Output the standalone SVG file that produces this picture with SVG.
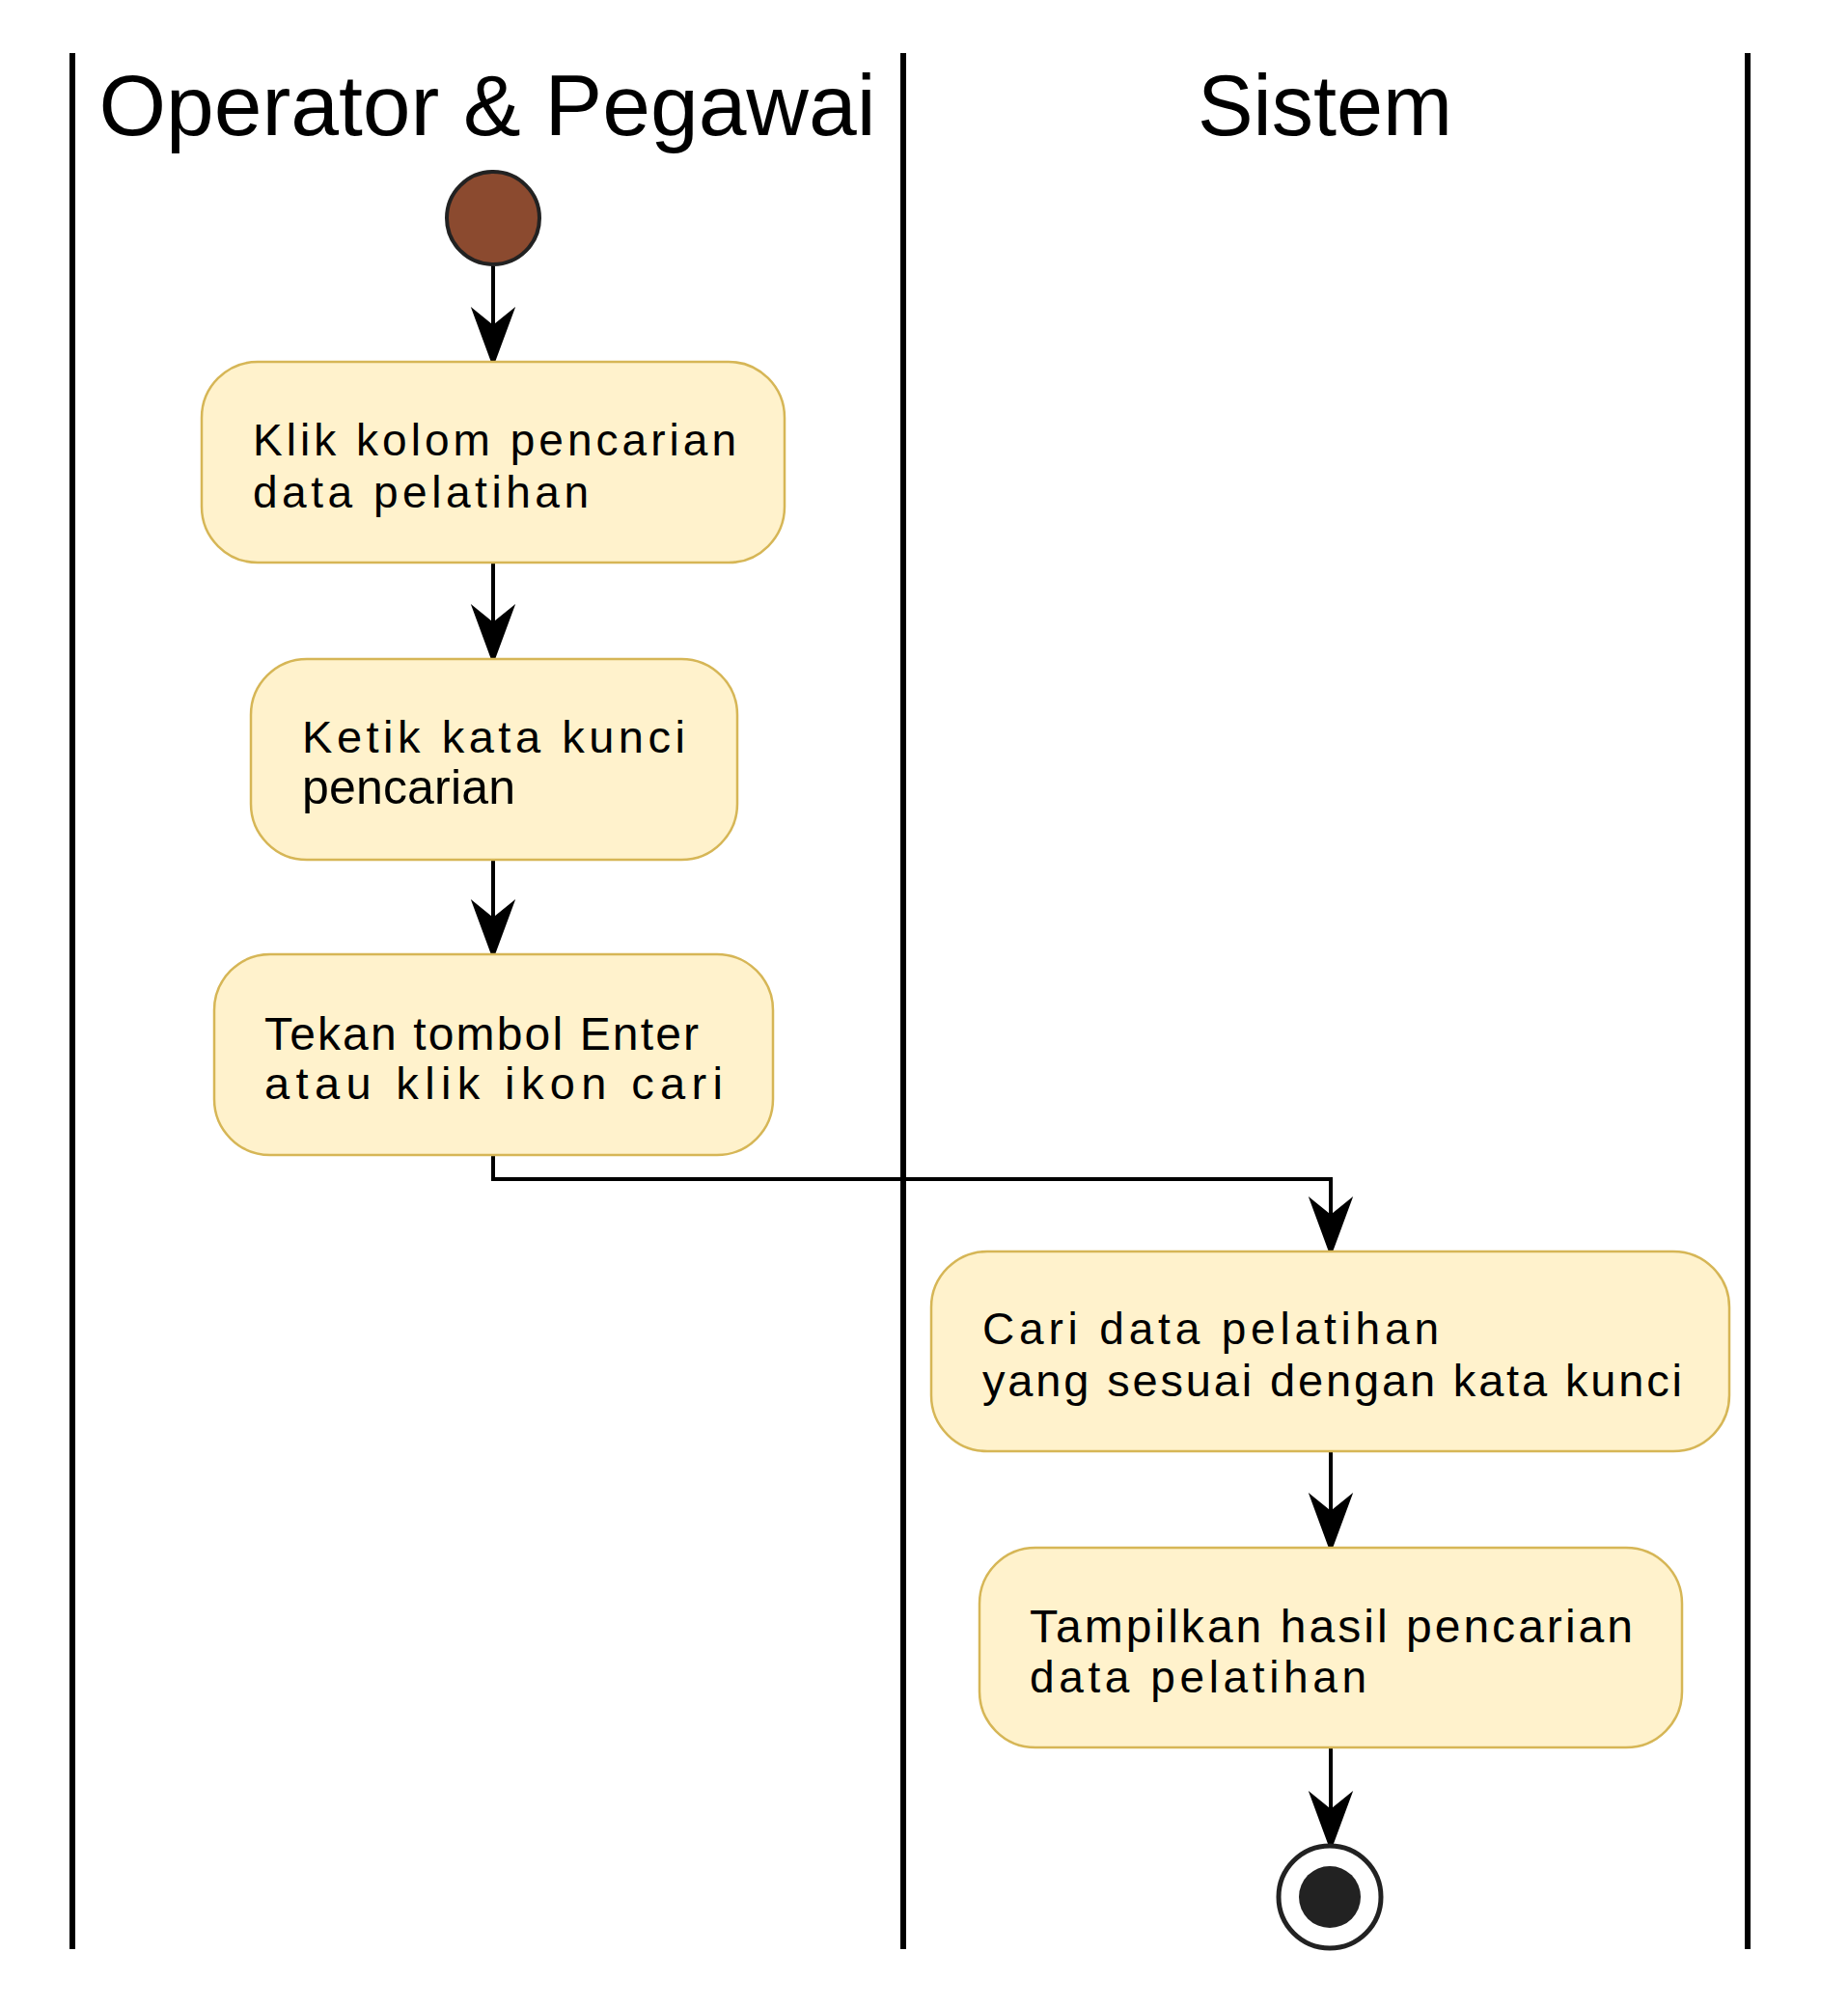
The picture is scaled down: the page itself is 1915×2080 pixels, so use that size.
<svg xmlns="http://www.w3.org/2000/svg" width="1915" height="2080" viewBox="0 0 1915 2080">
<defs>
<style>
.lane{stroke:#000;stroke-width:6;fill:none}
.title{font-family:"Liberation Sans",Arial,sans-serif;font-size:89px;fill:#000;text-anchor:middle}
.box{fill:#fff2cc;stroke:#d6b656;stroke-width:2.5}
.lbl{font-family:"Liberation Sans",Arial,sans-serif;fill:#000}
.edge{stroke:#000;stroke-width:4;fill:none;marker-end:url(#arr)}
</style>
<marker id="arr" markerUnits="userSpaceOnUse" viewBox="-20 -25 64 50" refX="0" refY="0" markerWidth="64" markerHeight="50" orient="auto">
<path d="M40,0 L-17,-21 L0,0 L-17,21 Z" fill="#000" stroke="#000" stroke-width="2" stroke-linejoin="miter"/>
</marker>
</defs>
<rect width="1915" height="2080" fill="#fff"/>
<g id="lanes">
<line class="lane" x1="75" y1="55" x2="75" y2="2020"/>
<line class="lane" x1="936" y1="55" x2="936" y2="2020"/>
<line class="lane" x1="1811" y1="55" x2="1811" y2="2020"/>
<text class="title" x="505" y="140" textLength="805" lengthAdjust="spacingAndGlyphs">Operator &amp; Pegawai</text>
<text class="title" x="1373" y="140" textLength="264" lengthAdjust="spacingAndGlyphs">Sistem</text>
</g>
<g id="connectors">
<path class="edge" d="M511,276 L511,338"/>
<path class="edge" d="M511,583 L511,646"/>
<path class="edge" d="M511,891 L511,952"/>
<path class="edge" d="M511,1197 L511,1222 L1379,1222 L1379,1260"/>
<path class="edge" d="M1379,1504 L1379,1567"/>
<path class="edge" d="M1379,1811 L1379,1876"/>
</g>
<g id="start">
<circle cx="511" cy="226" r="48" fill="#8b4a2f" stroke="#222" stroke-width="4"/>
</g>
<g id="n1">
<rect class="box" x="209" y="375" width="604" height="208" rx="58" ry="58"/>
<text class="lbl" x="262" y="472" font-size="46" textLength="501" lengthAdjust="spacing">Klik kolom pencarian</text>
<text class="lbl" x="262" y="526" font-size="46" textLength="348" lengthAdjust="spacing">data pelatihan</text>
</g>
<g id="n2">
<rect class="box" x="260" y="683" width="504" height="208" rx="58" ry="58"/>
<text class="lbl" x="313" y="780" font-size="47" textLength="397" lengthAdjust="spacing">Ketik kata kunci</text>
<text class="lbl" x="313" y="833" font-size="50" textLength="221" lengthAdjust="spacing">pencarian</text>
</g>
<g id="n3">
<rect class="box" x="222" y="989" width="579" height="208" rx="58" ry="58"/>
<text class="lbl" x="274" y="1088" font-size="48" textLength="450" lengthAdjust="spacing">Tekan tombol Enter</text>
<text class="lbl" x="274" y="1139" font-size="47" textLength="475" lengthAdjust="spacing">atau klik ikon cari</text>
</g>
<g id="n4">
<rect class="box" x="965" y="1297" width="827" height="207" rx="58" ry="58"/>
<text class="lbl" x="1018" y="1393" font-size="46" textLength="473" lengthAdjust="spacing">Cari data pelatihan</text>
<text class="lbl" x="1018" y="1447" font-size="47" textLength="725" lengthAdjust="spacing">yang sesuai dengan kata kunci</text>
</g>
<g id="n5">
<rect class="box" x="1015" y="1604" width="728" height="207" rx="58" ry="58"/>
<text class="lbl" x="1067" y="1702" font-size="48" textLength="625" lengthAdjust="spacing">Tampilkan hasil pencarian</text>
<text class="lbl" x="1067" y="1754" font-size="46" textLength="349" lengthAdjust="spacing">data pelatihan</text>
</g>
<g id="end">
<circle cx="1378" cy="1966" r="53" fill="#fff" stroke="#222" stroke-width="5"/>
<circle cx="1378" cy="1966" r="32" fill="#222"/>
</g>
</svg>
